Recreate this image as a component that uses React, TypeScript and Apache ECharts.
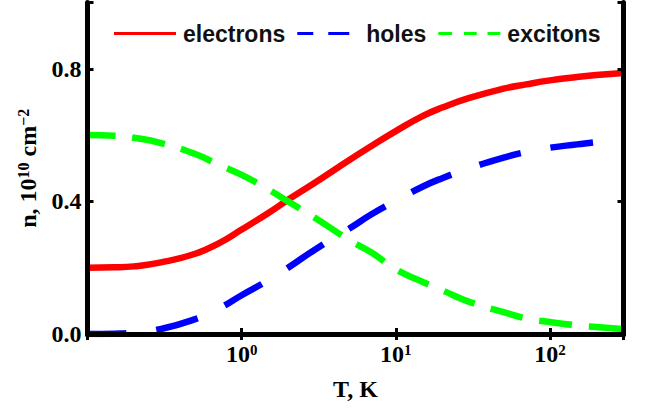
import React, { useEffect, useRef } from "react";
import * as echarts from "echarts";

const temperatures = [0.1, 0.15, 0.2, 0.3, 0.5, 0.7, 1, 1.5, 2, 3, 5, 7, 10, 15, 20, 30, 50, 70, 100, 150, 200, 300];
const electrons = [0.200, 0.201, 0.204, 0.216, 0.242, 0.272, 0.315, 0.366, 0.405, 0.457, 0.525, 0.568, 0.612, 0.658, 0.683, 0.712, 0.740, 0.753, 0.765, 0.775, 0.781, 0.787];
const holes = [0.000, 0.001, 0.004, 0.015, 0.045, 0.075, 0.117, 0.163, 0.200, 0.255, 0.318, 0.362, 0.402, 0.445, 0.470, 0.500, 0.532, 0.549, 0.562, 0.572, 0.579, 0.587];
const excitons = [0.600, 0.598, 0.592, 0.576, 0.543, 0.512, 0.480, 0.435, 0.400, 0.350, 0.283, 0.245, 0.195, 0.157, 0.132, 0.097, 0.066, 0.047, 0.036, 0.026, 0.021, 0.015];
const seriesNames = ["electrons", "holes", "excitons"];
const seriesColors = ["#ff0000", "#0000ff", "#00ff00"];
const yTickValues = [0, 0.4, 0.8];

const SERIF = "'Liberation Serif', 'Times New Roman', serif";
const SANS = "'Liberation Sans', Arial, sans-serif";

const legendIcons = [
  "path://M0,0H62V3H0Z",
  "path://M0,0H16V3H0Z M31,0H52V3H31Z M62,0V3",
  "path://M0,0H14V3H0Z M26,0H39V3H26Z M50,0H63V3H50Z",
];

export default function App() {
  const ref = useRef<HTMLDivElement>(null);
  useEffect(() => {
    document.body.style.margin = "0";
    if (!ref.current) return;
    const chart = echarts.init(ref.current, undefined, { renderer: "svg" });
    const pair = (arr: number[]) => temperatures.map((t, i) => [t, arr[i]]);
    const frameLine = { show: true, lineStyle: { color: "#000", width: 5 } };
    const tick = { show: true, inside: true, length: 6, lineStyle: { color: "#000", width: 3 } };
    const xFormatter = (v: number) => {
      const e = Math.log10(v);
      const r = Math.round(e);
      if (Math.abs(e - r) > 1e-6 || r < 0) return "";
      return `{b|10}{s|${r}}`;
    };
    const richBase = {
      b: { fontFamily: SERIF, fontWeight: "bold", fontSize: 24, color: "#000" },
      s: { fontFamily: SERIF, fontWeight: "bold", fontSize: 15, color: "#000", verticalAlign: "top" },
    };
    chart.setOption({
      animation: false,
      backgroundColor: "#fff",
      grid: { left: 87.5, right: 21.5, top: 2.5, bottom: 75, containLabel: false },
      legend: {
        left: 109,
        top: 17,
        itemWidth: 62,
        itemHeight: 3,
        itemGap: 12,
        textStyle: { fontFamily: SANS, fontWeight: "bold", fontSize: 23, color: "#111", padding: [0, 0, 0, 2] },
        data: seriesNames.map((name, i) => ({
          name,
          icon: legendIcons[i],
          itemStyle: { color: seriesColors[i], borderWidth: 0, opacity: 1 },
        })),
      },
      xAxis: [
        {
          type: "log",
          logBase: 10,
          min: 0.1,
          max: 300,
          z: 10,
          axisLine: frameLine,
          axisTick: tick,
          splitLine: { show: false },
          minorTick: { show: false },
          axisLabel: { formatter: xFormatter, rich: richBase, margin: 8, showMaxLabel: false },
          name: "T, K",
          nameLocation: "middle",
          nameGap: 43,
          nameTextStyle: { fontFamily: SERIF, fontWeight: "bold", fontSize: 24, color: "#000" },
        },
        {
          type: "log",
          logBase: 10,
          min: 0.1,
          max: 300,
          position: "top",
          z: 10,
          axisLine: frameLine,
          axisTick: tick,
          splitLine: { show: false },
          axisLabel: { show: false },
        },
      ],
      yAxis: [
        {
          type: "value",
          min: 0,
          max: 1,
          interval: 0.4,
          z: 10,
          axisLine: frameLine,
          axisTick: tick,
          splitLine: { show: false },
          axisLabel: {
            formatter: (v: number) => (yTickValues.some((t) => Math.abs(t - v) < 1e-6) ? v.toFixed(1) : ""),
            fontFamily: SERIF,
            fontWeight: "bold",
            fontSize: 24,
            color: "#000",
            margin: 6,
          },
          name: "{n|n, 10}{s|10}{n| cm}{s|\u22122}",
          nameLocation: "middle",
          nameRotate: 90,
          nameGap: 48,
          nameTextStyle: {
            rich: {
              n: { fontFamily: SERIF, fontWeight: "bold", fontSize: 24, color: "#000" },
              s: { fontFamily: SERIF, fontWeight: "bold", fontSize: 16, color: "#000", verticalAlign: "top" },
            },
          },
        },
        {
          type: "value",
          min: 0,
          max: 1,
          interval: 0.4,
          position: "right",
          z: 10,
          axisLine: frameLine,
          axisTick: tick,
          splitLine: { show: false },
          axisLabel: { show: false },
        },
      ],
      series: [
        {
          name: seriesNames[0],
          type: "line",
          data: pair(electrons),
          showSymbol: false,
          symbol: "none",
          smooth: true,
          color: seriesColors[0],
          lineStyle: { color: seriesColors[0], width: 6.5 },
        },
        {
          name: seriesNames[1],
          type: "line",
          data: pair(holes),
          showSymbol: false,
          symbol: "none",
          smooth: true,
          color: seriesColors[1],
          lineStyle: { color: seriesColors[1], width: 6.5, type: [43, 30], dashOffset: 4 },
        },
        {
          name: seriesNames[2],
          type: "line",
          data: pair(excitons),
          showSymbol: false,
          symbol: "none",
          smooth: true,
          color: seriesColors[2],
          lineStyle: { color: seriesColors[2], width: 6.5, type: [33, 17], dashOffset: 5 },
        },
      ],
    });
    return () => chart.dispose();
  }, []);
  return <div ref={ref} style={{ width: 645, height: 409 }} />;
}
